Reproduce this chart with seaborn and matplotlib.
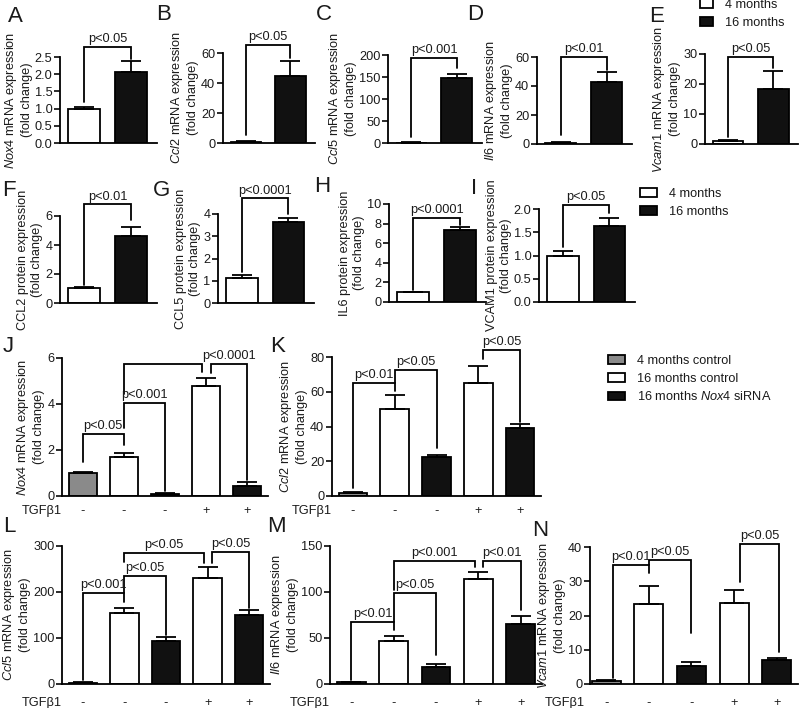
import matplotlib
matplotlib.use("Agg")
import matplotlib.pyplot as plt
from matplotlib.patches import Patch
from matplotlib.ticker import FormatStrFormatter
import numpy as np
import pandas as pd
import seaborn as sns

W, H = 800, 708
FS = 9.2
LW = 1.3
INK = "#1a1a1a"

# --- A-E: mRNA, 4 vs 16 months -------------------------------------------
ages = ["4 months", "16 months"]
age_colors = {"4 months": "white", "16 months": "#111111"}

mrna_genes = ["Nox4", "Ccl2", "Ccl5", "Il6", "Vcam1"]
mrna_4mo = [1.0, 1.0, 1.0, 1.0, 1.0]
mrna_4mo_err = [0.05, 0.3, 0.6, 0.4, 0.25]
mrna_16mo = [2.05, 45.0, 148.0, 43.0, 18.2]
mrna_16mo_err = [0.32, 10.0, 9.0, 6.5, 6.0]
mrna_pvals = ["p<0.05", "p<0.05", "p<0.001", "p<0.01", "p<0.05"]

# --- F-I: protein, 4 vs 16 months ----------------------------------------
protein_names = ["CCL2", "CCL5", "IL6", "VCAM1"]
protein_4mo = [1.05, 1.12, 1.0, 1.0]
protein_4mo_err = [0.08, 0.14, 0.05, 0.1]
protein_16mo = [4.65, 3.65, 7.3, 1.63]
protein_16mo_err = [0.62, 0.15, 0.35, 0.17]
protein_pvals = ["p<0.01", "p<0.0001", "p<0.0001", "p<0.05"]

# --- J-N: siRNA / TGFb1 ----------------------------------------------------
groups = ["4 months control", "16 months control", "16 months Nox4 siRNA",
          "16 months control", "16 months Nox4 siRNA"]
tgfb1 = ["-", "-", "-", "+", "+"]
group_colors = {"4 months control": "#8a8a8a",
                "16 months control": "white",
                "16 months Nox4 siRNA": "#111111"}

nox4_mean = [1.0, 1.7, 0.1, 4.8, 0.45]
nox4_err = [0.05, 0.16, 0.03, 0.33, 0.15]
ccl2_mean = [2.0, 50.3, 22.5, 65.0, 39.0]
ccl2_err = [0.4, 8.0, 1.0, 10.0, 2.3]
ccl5_mean = [3.0, 154.0, 94.0, 230.0, 150.0]
ccl5_err = [0.6, 11.0, 9.0, 24.0, 11.0]
il6_mean = [2.0, 46.7, 18.5, 114.0, 65.0]
il6_err = [0.5, 5.3, 3.2, 7.5, 9.0]
vcam1_mean = [1.0, 23.4, 5.4, 23.6, 7.0]
vcam1_err = [0.1, 5.3, 1.0, 3.8, 0.6]

# brackets: (x1, x2, top, left foot, right foot, label)
brackets_2bar = {
    "A": (2.79, 1.19, 2.45), "B": (65.3, 5.3, 57.0), "C": (193, 14, 170),
    "D": (60, 6.2, 51), "E": (29, 2.3, 25.5),
    "F": (6.8, 1.24, 5.7), "G": (4.7, 1.4, 4.0), "H": (8.6, 1.2, 7.9),
    "I": (2.09, 1.18, 1.91),
}
brackets_5bar = {
    "J": [(0, 1, 2.7, 1.48, 2.2, "p<0.05"), (1, 2, 4.04, 2.96, 0.2, "p<0.001"),
          (1, 2.91, 5.74, 4.43, 5.4, ""), (3.11, 4, 5.74, 5.35, 0.7, "p<0.0001")],
    "K": [(0, 1, 65, 4.5, 60.5, "p<0.01"), (1, 2, 72.6, 65, 27.4, "p<0.05"),
          (3.12, 4, 84, 79, 42.5, "p<0.05")],
    "L": [(0, 1, 198, 9, 178, "p<0.001"), (1, 2, 235, 198, 106, "p<0.05"),
          (1, 2.92, 285, 265, 263, "p<0.05"), (3.11, 4, 287, 263, 165, "p<0.05")],
    "M": [(0, 1, 67.4, 4.3, 58.7, "p<0.01"), (1, 2, 99, 67.4, 31.5, "p<0.05"),
          (1, 2.93, 134, 102, 127, "p<0.001"), (3.1, 4, 134, 127, 80.4, "p<0.01")],
    "N": [(0.15, 1, 34.7, 1.7, 32.4, "p<0.01"), (1, 2, 36.2, 34.7, 15, "p<0.05"),
          (3.14, 4.05, 41, 29.8, 9.3, "p<0.05")],
}

sns.set_theme(style="ticks")
plt.rcParams["font.family"] = ["Liberation Sans", "DejaVu Sans"]
plt.rcParams["mathtext.fontset"] = "custom"
plt.rcParams["mathtext.rm"] = "Liberation Sans"
plt.rcParams["mathtext.it"] = "Liberation Sans:italic"
plt.rcParams["text.color"] = INK
plt.rcParams["axes.labelcolor"] = INK
plt.rcParams["xtick.color"] = INK
plt.rcParams["ytick.color"] = INK

fig = plt.figure(figsize=(W / 100, H / 100), dpi=100)


def px_axes(l, t, r, b):
    return fig.add_axes([l / W, 1 - b / H, (r - l) / W, (b - t) / H])


def style_axes(ax, ymax, step, fmt, xlim, xpad=5):
    ax.set_xlim(*xlim)
    ax.set_ylim(0, ymax)
    ax.set_yticks(np.arange(0, ymax + step / 2, step))
    ax.yaxis.set_major_formatter(FormatStrFormatter(fmt))
    sns.despine(ax=ax)
    for s in ("left", "bottom"):
        ax.spines[s].set_linewidth(LW)
        ax.spines[s].set_color("black")
    ax.tick_params(axis="y", length=4, width=LW, pad=1.5, labelsize=FS)
    ax.tick_params(axis="x", length=0, pad=xpad, labelsize=FS)
    ax.set_xlabel("")


def bracket(ax, x1, x2, y, y1, y2, label):
    ax.plot([x1, x1, x2, x2], [y1, y, y, y2], color="black", lw=LW,
            clip_on=False, solid_joinstyle="miter")
    if label:
        ax.annotate(label, xy=((x1 + x2) / 2, y), xytext=(0, 1.2),
                    textcoords="offset points", ha="center", va="bottom",
                    fontsize=FS, annotation_clip=False)


def errbars(ax, means, errs):
    n = len(means)
    ax.errorbar(np.arange(n), means, yerr=[np.zeros(n), errs], fmt="none",
                ecolor="black", elinewidth=LW, capsize=7, capthick=LW, zorder=3)


def two_bar(rect, m4, e4, m16, e16, ymax, step, fmt, ylabel, letter, pval):
    ax = px_axes(*rect)
    df = pd.DataFrame({"age": ages, "value": [m4, m16]})
    sns.barplot(data=df, x="age", y="value", hue="age", order=ages,
                palette=age_colors, width=0.68, edgecolor="black",
                linewidth=LW, errorbar=None, legend=False, ax=ax)
    errbars(ax, [m4, m16], [e4, e16])
    style_axes(ax, ymax, step, fmt, (-0.51, 1.55))
    ax.set_xticks([])
    ax.set_ylabel(ylabel, fontsize=FS, labelpad=1.5)
    top, f1, f2 = brackets_2bar[letter]
    bracket(ax, 0, 1, top, f1, f2, pval)
    return ax


def five_bar(rect, means, errs, ymax, step, ylabel, letter, xlim=(-0.5, 4.5),
             xpad=5.5):
    ax = px_axes(*rect)
    slots = [f"{g} TGFb1{s} #{i}" for i, (g, s) in enumerate(zip(groups, tgfb1))]
    df = pd.DataFrame({"slot": slots, "group": groups, "value": means})
    sns.barplot(data=df, x="slot", y="value", hue="group", order=slots,
                palette=group_colors, dodge=False, width=0.68,
                edgecolor="black", linewidth=LW, errorbar=None, legend=False,
                ax=ax)
    errbars(ax, means, errs)
    style_axes(ax, ymax, step, "%d", xlim, xpad)
    ax.set_xticks(range(len(tgfb1)))
    ax.set_xticklabels(tgfb1)
    ax.set_ylabel(ylabel, fontsize=FS, labelpad=1.5)
    ax.annotate("TGFβ1", xy=(-0.5, 0), xycoords=ax.get_xaxis_transform(),
                xytext=(0, -xpad), textcoords="offset points", ha="right",
                va="top", fontsize=FS, annotation_clip=False)
    for b in brackets_5bar[letter]:
        bracket(ax, *b)
    return ax


# row 1
row1_rects = [(60, 57, 157, 143), (223, 53, 315, 143), (388, 55, 482, 143),
              (537, 57, 632, 144), (705, 54, 798, 144)]
row1_lim = [(2.5, 0.5, "%.1f"), (60, 20, "%d"), (200, 50, "%d"),
            (60, 20, "%d"), (30, 10, "%d")]
for i, gene in enumerate(mrna_genes):
    ymax, step, fmt = row1_lim[i]
    two_bar(row1_rects[i], mrna_4mo[i], mrna_4mo_err[i], mrna_16mo[i],
            mrna_16mo_err[i], ymax, step, fmt,
            f"$\\mathit{{{gene}}}$ mRNA expression\n(fold change)",
            "ABCDE"[i], mrna_pvals[i])

# row 2
row2_rects = [(60, 216, 157, 303), (218, 214, 314, 303), (389, 204, 486, 302),
              (539, 209, 635, 302)]
row2_lim = [(6, 2, "%d"), (4, 1, "%d"), (10, 2, "%d"), (2.0, 0.5, "%.1f")]
for i, prot in enumerate(protein_names):
    ymax, step, fmt = row2_lim[i]
    two_bar(row2_rects[i], protein_4mo[i], protein_4mo_err[i], protein_16mo[i],
            protein_16mo_err[i], ymax, step, fmt,
            f"{prot} protein expression\n(fold change)",
            "FGHI"[i], protein_pvals[i])

# rows 3-4
five_bar((62, 358, 268, 496), nox4_mean, nox4_err, 6, 2,
         "$\\mathit{Nox4}$ mRNA expression\n(fold change)", "J", xpad=6.5)
five_bar((332, 357, 541, 496), ccl2_mean, ccl2_err, 80, 20,
         "$\\mathit{Ccl2}$ mRNA expression\n(fold change)", "K", xpad=6.5)
five_bar((62, 546, 270, 684), ccl5_mean, ccl5_err, 300, 100,
         "$\\mathit{Ccl5}$ mRNA expression\n(fold change)", "L", xpad=9.5)
five_bar((330, 546, 542, 684), il6_mean, il6_err, 150, 50,
         "$\\mathit{Il6}$ mRNA expression\n(fold change)", "M", xpad=9.5)
five_bar((590, 547, 798, 684), vcam1_mean, vcam1_err, 40, 10,
         "$\\mathit{Vcam1}$ mRNA expression\n(fold change)", "N",
         xlim=(-0.38, 4.5), xpad=9.5)

# panel letters
letters = {"A": (15, 16), "B": (164, 15), "C": (324, 15), "D": (475, 15),
           "E": (657, 16), "F": (9, 190), "G": (161, 190), "H": (322, 187),
           "I": (474, 189), "J": (8, 347), "K": (278, 347), "L": (9, 527),
           "M": (276, 527), "N": (540, 530)}
for k, (x, y) in letters.items():
    fig.text(x / W, 1 - y / H, k, fontsize=16, ha="center", va="center")


def legend_at(labels, colors, x, y, hl, spacing=0.35):
    handles = [Patch(facecolor=colors[l], edgecolor="black", linewidth=LW)
               for l in labels]
    shown = [l.replace("Nox4", "$\\mathit{Nox4}$") for l in labels]
    fig.legend(handles, shown, loc="upper left",
               bbox_to_anchor=(x / W, 1 - y / H), frameon=False, fontsize=FS,
               borderpad=0, borderaxespad=0, handlelength=hl, handleheight=0.7,
               handletextpad=0.9, labelspacing=spacing)


legend_at(ages, age_colors, 700, -1, 1.05, 0.45)
legend_at(ages, age_colors, 640, 188, 1.35, 0.45)
legend_at(list(group_colors), group_colors, 608, 355, 1.35, 0.45)

fig.savefig("out.png", dpi=100)
